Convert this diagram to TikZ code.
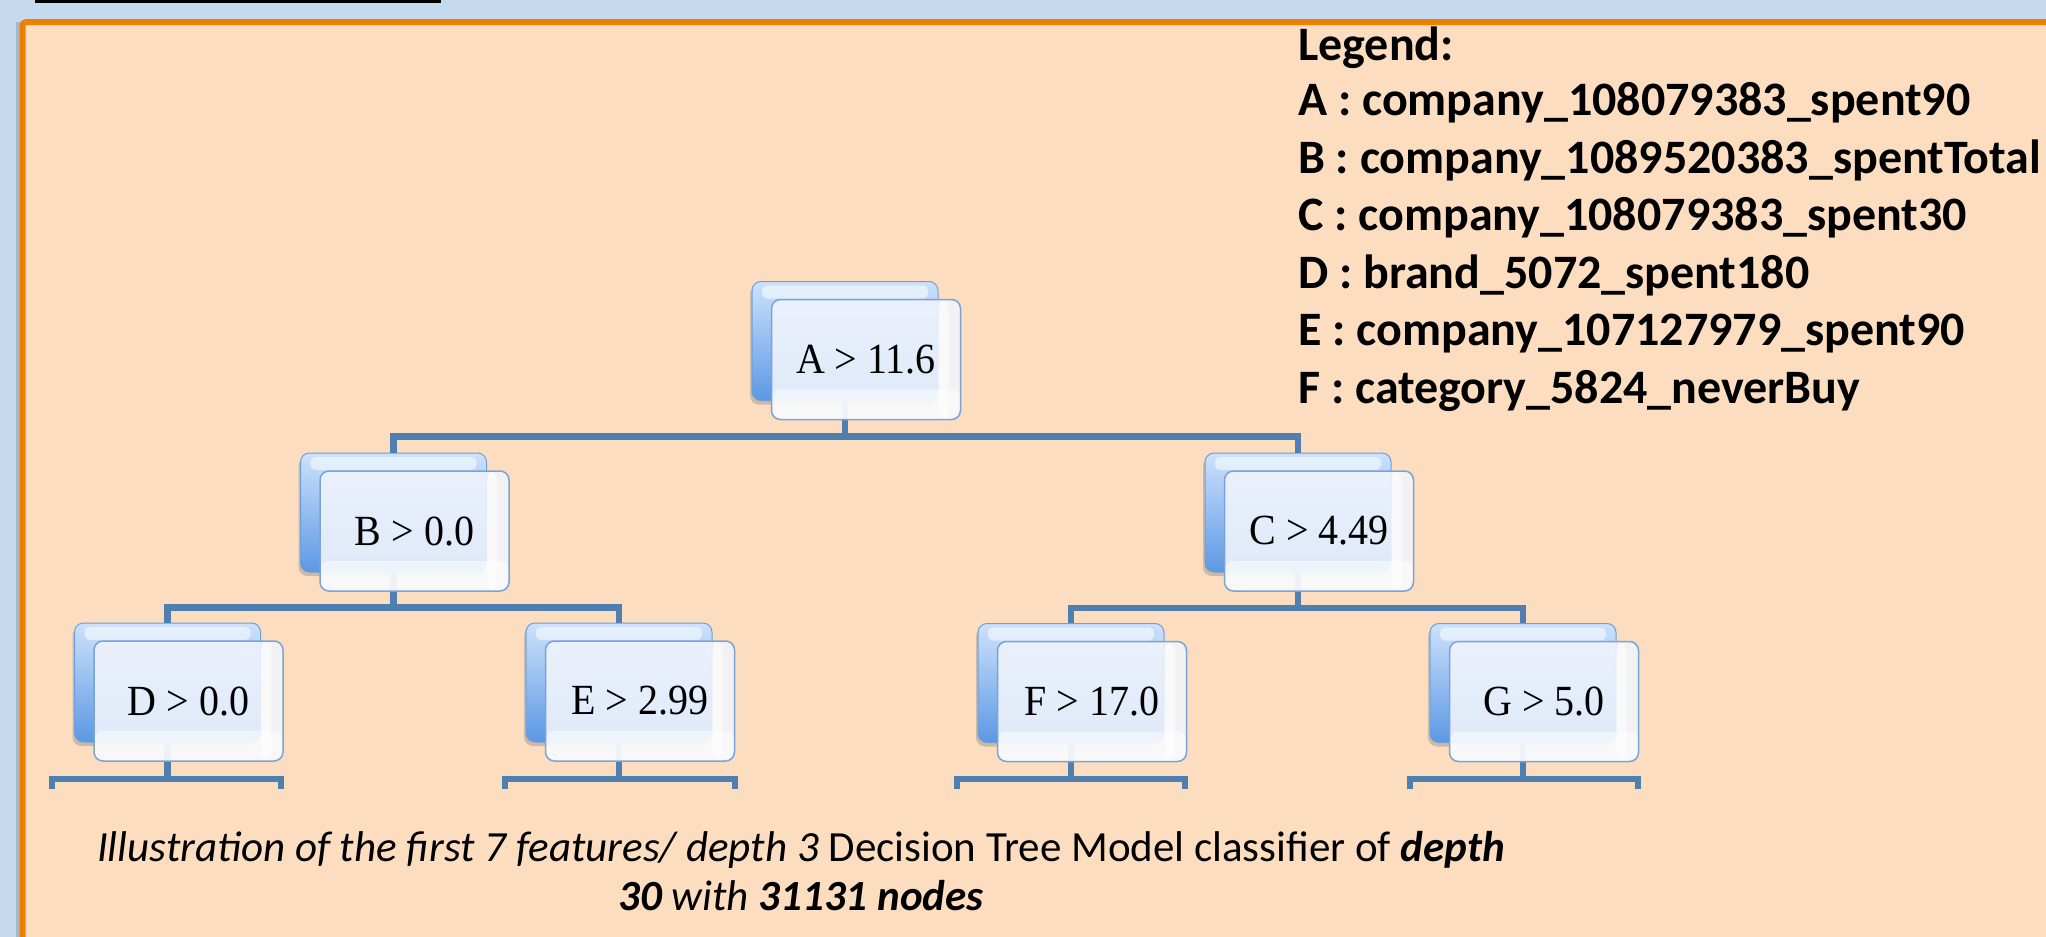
\documentclass[tikz,border=0pt]{standalone}
\usepackage{fontspec}
\setmainfont{Carlito}
\newfontfamily\treefont[FakeStretch=0.93]{Liberation Serif}
\usetikzlibrary{shadows,calc}
\definecolor{bgblue}{RGB}{197,217,239}
\definecolor{peach}{RGB}{252,221,192}
\definecolor{frameorange}{RGB}{238,128,0}
\definecolor{linkblue}{RGB}{79,126,176}
\definecolor{backtop}{RGB}{205,226,252}
\definecolor{backbot}{RGB}{92,152,228}
\definecolor{backedge}{RGB}{110,158,220}
\definecolor{frontfill}{RGB}{241,245,252}
\definecolor{frontedge}{RGB}{122,163,214}
\begin{document}
\begin{tikzpicture}[x=1pt,y=-1pt,
  backbox/.style={rounded corners=9pt, minimum width=186pt, minimum height=119pt,
    inner sep=0pt, draw=backedge, line width=1pt, top color=backtop, bottom color=backbot,
    drop shadow={shadow xshift=-2pt, shadow yshift=-4pt, opacity=0.3, fill=black!60},
    path picture={\fill[white, opacity=0.55, rounded corners=5pt]
      ([shift={(10,4)}]path picture bounding box.north west) rectangle
      ([shift={(-10,17)}]path picture bounding box.north east);}},
  frontbox/.style={rounded corners=9pt, minimum width=189pt, minimum height=120pt,
    inner sep=0pt, draw=frontedge, line width=1.5pt, fill=frontfill, fill opacity=0.88,
    text opacity=1, font=\treefont\fontsize{43}{46}\selectfont,
    path picture={\fill[white, opacity=0.6]
      ([shift={(-22,0)}]path picture bounding box.north east) rectangle
      ([shift={(-12,0)}]path picture bounding box.south east);
      \fill[white, opacity=0.5]
      ([shift={(0,-30)}]path picture bounding box.south west) rectangle
      (path picture bounding box.south east);}},
  link/.style={draw=linkblue, line width=6.5pt},
  legendtext/.style={anchor=base west, inner sep=0pt, font=\bfseries\fontsize{48}{50}\selectfont},
  captiontext/.style={anchor=base, inner sep=0pt, font=\fontsize{43}{46}\selectfont}]
\useasboundingbox (0,0) rectangle (2046,937);
\clip (0,0) rectangle (2046,937);
% background and frame
\fill[bgblue] (0,0) rectangle (2046,937);
\fill[black] (35,0) rectangle (441,3);
\fill[black, opacity=0.15] (16,22) rectangle (22,960);
\draw[draw=frameorange, line width=6pt, fill=peach, rounded corners=4pt] (22.5,22) rectangle (2090,990);
% back boxes
\node[backbox] (Aback) at (845,341) {};
\node[backbox] (Bback) at (393.5,512.5) {};
\node[backbox] (Cback) at (1298,512.5) {};
\node[backbox] (Dback) at (167.5,682.5) {};
\node[backbox] (Eback) at (619,682.5) {};
\node[backbox] (Fback) at (1071,683) {};
\node[backbox] (Gback) at (1523,683) {};
% leaf leg ends
\coordinate (Dl) at (52,789);  \coordinate (Dr) at (281,789);
\coordinate (El) at (505,789); \coordinate (Er) at (735,789);
\coordinate (Fl) at (957,789); \coordinate (Fr) at (1185,789);
\coordinate (Gl) at (1410,789);\coordinate (Gr) at (1638,789);
% connectors
\draw[link] (Aback.south) -- ++(0,36);
\draw[link] (Bback.north) -- ++(0,-16) -| (Cback.north);
\draw[link] (Bback.south) -- ++(0,36);
\draw[link] (Dback.north) -- ++(0,-15) -| (Eback.north);
\draw[link] (Cback.south) -- ++(0,36);
\draw[link] (Fback.north) -- ++(0,-15) -| (Gback.north);
\foreach \n in {D,E,F,G}{
  \draw[link] (\n back.south) -- ++(0,37);
  \draw[link] (\n l) -- ++(0,-10) -| (\n r);
}
% front boxes
\node[frontbox] (A) at ($(Aback.center)+(21,18.5)$) {A > 11.6};
\node[frontbox] (B) at ($(Bback.center)+(21,18.5)$) {B > 0.0};
\node[frontbox] (C) at ($(Cback.center)+(21,18.5)$) {C > 4.49};
\node[frontbox] (D) at ($(Dback.center)+(21,18.5)$) {D > 0.0};
\node[frontbox] (E) at ($(Eback.center)+(21,18.5)$) {E > 2.99};
\node[frontbox] (F) at ($(Fback.center)+(21,18.5)$) {F > 17.0};
\node[frontbox] (G) at ($(Gback.center)+(21,18.5)$) {G > 5.0};
% legend
\node[legendtext] (L0) at (1298,60) {Legend:};
\node[legendtext] (L1) at (1298,115) {A : company\_108079383\_spent90};
\node[legendtext] (L2) at (1298,173) {B : company\_1089520383\_spentTotal};
\node[legendtext] (L3) at (1298,230) {C : company\_108079383\_spent30};
\node[legendtext] (L4) at (1298,288) {D : brand\_5072\_spent180};
\node[legendtext] (L5) at (1298,345) {E : company\_107127979\_spent90};
\node[legendtext] (L6) at (1298,403) {F : category\_5824\_neverBuy};
% caption
\node[captiontext] (cap1) at (801,861) {{\itshape Illustration of the first 7 features/ depth 3} Decision Tree Model classifier of {\bfseries\itshape depth}};
\node[captiontext] (cap2) at (801,910) {{\bfseries\itshape 30} {\itshape with} {\bfseries\itshape 31131 nodes}};
\end{tikzpicture}
\end{document}
